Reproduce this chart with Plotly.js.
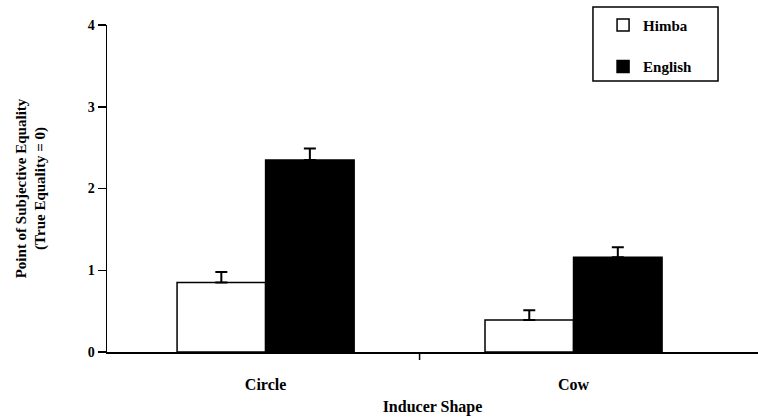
<!DOCTYPE html>
<html>
<head>
<meta charset="utf-8">
<script src="https://cdn.plot.ly/plotly-3.0.1.min.js"></script>
<style>html,body{margin:0;padding:0;background:#fff;}#chart{width:758px;height:418px;}</style>
</head>
<body>
<div id="chart"></div>
<script>
const categories = ["Circle", "Cow"];
const seriesNames = ["Himba", "English"];
const himbaValues = [0.85, 0.39];
const himbaErrors = [0.13, 0.12];
const englishValues = [2.35, 1.16];
const englishErrors = [0.14, 0.12];
const yTickValues = [0, 1, 2, 3, 4];

const fontFam = "Liberation Serif, serif";
const errStyle = (arr) => ({type: "data", symmetric: false, array: arr, arrayminus: arr.map(() => 0), color: "#000", thickness: 2, width: 6});

const traces = [
  {type: "bar", name: seriesNames[0], x: categories, y: himbaValues, legendgroup: "a",
   marker: {color: "#fff", line: {color: "#000", width: 1.5}}, error_y: errStyle(himbaErrors)},
  {type: "bar", name: seriesNames[1], x: categories, y: englishValues, legendgroup: "b",
   marker: {color: "#000", line: {color: "#000", width: 1.5}}, error_y: errStyle(englishErrors)}
];

const layout = {
  width: 758, height: 418,
  margin: {l: 107, r: 0, t: 25, b: 66},
  paper_bgcolor: "#fff", plot_bgcolor: "#fff",
  font: {family: fontFam, color: "#000", size: 12},
  barmode: "group", bargap: 0.425, bargroupgap: 0,
  showlegend: true,
  legend: {x: 0.762, y: 1.05, xanchor: "left", yanchor: "top", borderwidth: 0,
           bgcolor: "rgba(0,0,0,0)", font: {family: fontFam, size: 15, weight: "bold"}, tracegroupgap: 19},
  xaxis: {type: "category", range: [-0.515, 1.599], showline: true, linecolor: "#000", linewidth: 1.5,
          ticks: "outside", ticklen: 17, tickcolor: "rgba(0,0,0,0)", showgrid: false, zeroline: false,
          tickfont: {family: fontFam, size: 16, weight: "bold"},
          title: {text: "Inducer Shape", font: {family: fontFam, size: 16, weight: "bold"}, standoff: 9}},
  yaxis: {range: [0, 4], tickvals: yTickValues, showline: true, linecolor: "#000", linewidth: 1.5,
          ticks: "outside", ticklen: 8, tickwidth: 1.5, tickcolor: "#000", showgrid: false, zeroline: false,
          tickfont: {family: fontFam, size: 14, weight: "bold"},
          title: {text: "Point of Subjective Equality<br>(True Equality = 0)", font: {family: fontFam, size: 15, weight: "bold"}, standoff: 38}},
  shapes: [
    {type: "line", xref: "x", yref: "paper", x0: 0.5, x1: 0.5, ysizemode: "pixel", yanchor: 0, y0: 0, y1: -8,
     line: {color: "#000", width: 1.5}},
    {type: "rect", xref: "paper", yref: "paper", x0: 0.7465, x1: 0.9386, y0: 0.8287, y1: 1.055,
     line: {color: "#000", width: 1.5}, fillcolor: "#fff", layer: "below"}
  ]
};

Plotly.newPlot("chart", traces, layout, {displayModeBar: false, staticPlot: true});
</script>
</body>
</html>
